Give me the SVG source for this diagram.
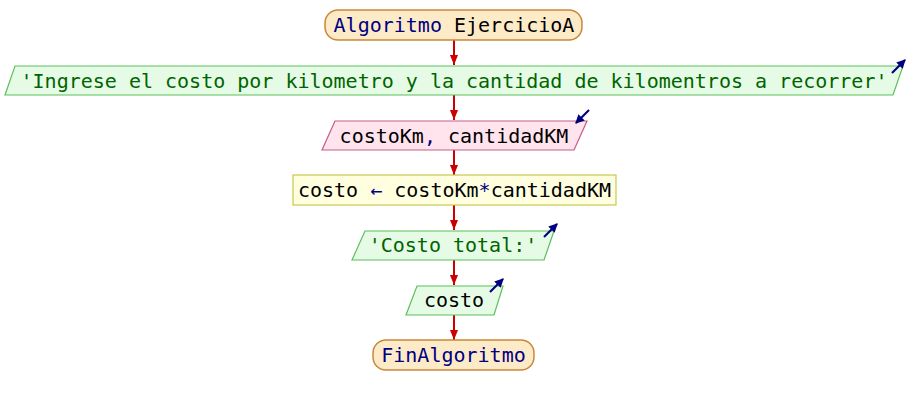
<svg xmlns="http://www.w3.org/2000/svg" width="908" height="405" viewBox="0 0 908 405">
  <style>
    .t { font-family: "DejaVu Sans Mono", "Liberation Mono", monospace; font-size: 20px; text-anchor: middle; }
    .kw { fill: #000080; }
    .id { fill: #000000; }
    .str { fill: #006400; }
    .term { fill: #fdebc8; stroke: #c8883a; stroke-width: 1.5; }
    .out { fill: #e6fbe6; stroke: #5cbf5c; stroke-width: 1.2; }
    .inp { fill: #ffe4ee; stroke: #c45c8a; stroke-width: 1.2; }
    .asg { fill: #ffffe0; stroke: #c8c850; stroke-width: 1.2; }
    .flow { stroke: #cc0000; stroke-width: 2; fill: none; }
    .icon { stroke: #000080; stroke-width: 2.2; fill: none; }
  </style>
  <defs>
    <marker id="ah" viewBox="0 0 10 8" refX="10" refY="4" markerWidth="10" markerHeight="8" markerUnits="userSpaceOnUse" orient="auto">
      <path d="M0,0 L10,4 L0,8 Z" fill="#cc0000"/>
    </marker>
    <marker id="io" viewBox="0 0 8 8" refX="7" refY="4" markerWidth="9" markerHeight="9" markerUnits="userSpaceOnUse" orient="auto">
      <path d="M0,0 L8,4 L0,8 Z" fill="#000080"/>
    </marker>
  </defs>

  <!-- flow connectors -->
  <g id="connectors">
    <line class="flow" x1="454" y1="40" x2="454" y2="65" marker-end="url(#ah)"/>
    <line class="flow" x1="454" y1="95" x2="454" y2="120" marker-end="url(#ah)"/>
    <line class="flow" x1="454" y1="150" x2="454" y2="175" marker-end="url(#ah)"/>
    <line class="flow" x1="454" y1="205" x2="454" y2="230" marker-end="url(#ah)"/>
    <line class="flow" x1="454" y1="260" x2="454" y2="285" marker-end="url(#ah)"/>
    <line class="flow" x1="454" y1="315" x2="454" y2="340" marker-end="url(#ah)"/>
  </g>

  <!-- start -->
  <g id="start">
    <rect class="term" x="325" y="10" width="257" height="30" rx="13" ry="13"/>
    <text class="t" x="454" y="32"><tspan class="kw">Algoritmo</tspan><tspan class="id"> EjercicioA</tspan></text>
  </g>

  <!-- prompt output -->
  <g id="out1">
    <polygon class="out" points="15,66 903,66 893,95 5,95"/>
    <text class="t str" x="454" y="88">'Ingrese el costo por kilometro y la cantidad de kilomentros a recorrer'</text>
    <line class="icon" x1="892" y1="73" x2="905" y2="60" marker-end="url(#io)"/>
  </g>

  <!-- read input -->
  <g id="read">
    <polygon class="inp" points="335,121 587,121 574,150 322,150"/>
    <text class="t" x="454" y="143"><tspan class="id">costoKm</tspan><tspan class="kw">,</tspan><tspan class="id"> cantidadKM</tspan></text>
    <line class="icon" x1="589" y1="110" x2="576" y2="123" marker-end="url(#io)"/>
  </g>

  <!-- assignment -->
  <g id="assign">
    <rect class="asg" x="293" y="175" width="323" height="30"/>
    <text class="t" x="454.5" y="197"><tspan class="id">costo </tspan><tspan class="kw">←</tspan><tspan class="id"> costoKm</tspan><tspan class="kw">*</tspan><tspan class="id">cantidadKM</tspan></text>
  </g>

  <!-- total label output -->
  <g id="out2">
    <polygon class="out" points="365,231 554,231 544,260 352,260"/>
    <text class="t str" x="453" y="252">'Costo total:'</text>
    <line class="icon" x1="544" y1="237" x2="557" y2="224" marker-end="url(#io)"/>
  </g>

  <!-- value output -->
  <g id="out3">
    <polygon class="out" points="417,286 503,286 494,315 406,315"/>
    <text class="t id" x="454" y="307">costo</text>
    <line class="icon" x1="490" y1="292" x2="503" y2="279" marker-end="url(#io)"/>
  </g>

  <!-- end -->
  <g id="end">
    <rect class="term" x="373" y="340" width="161" height="30" rx="13" ry="13"/>
    <text class="t kw" x="453.5" y="362">FinAlgoritmo</text>
  </g>
</svg>
